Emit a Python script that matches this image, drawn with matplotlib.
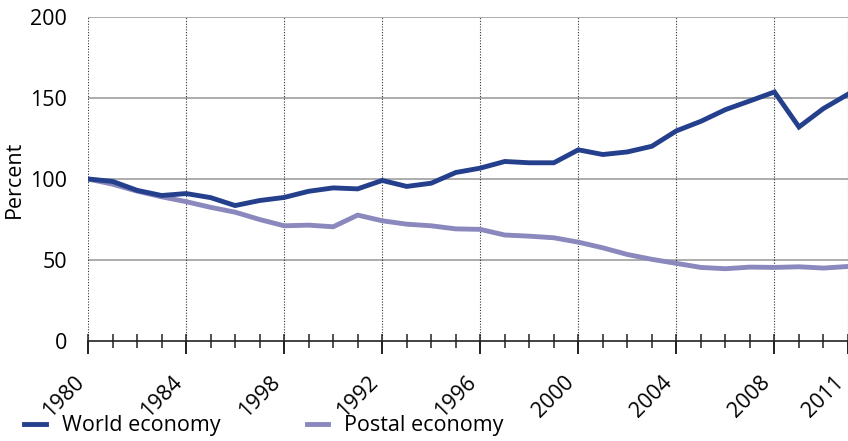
import numpy as np
import matplotlib
matplotlib.use('Agg')
import matplotlib.pyplot as plt
import matplotlib.transforms as mtransforms

# Index 1980 = 100
years = list(range(1980, 2012))

world = [100, 98.5, 93, 89.8, 91, 88.5, 83.6, 86.7, 88.6, 92.4,
         94.5, 93.9, 99.1, 95.4, 97.4, 104, 106.7, 110.8, 110, 110,
         118, 115.1, 116.7, 120.2, 129.7, 135.6, 142.8, 148.2, 153.7, 132.1,
         143.5, 152.3]

postal = [100, 96.8, 92.5, 89, 86, 82.5, 79.5, 75, 71.1, 71.5,
          70.5, 77.7, 74.2, 72.1, 71.1, 69.2, 68.9, 65.4, 64.7, 63.7,
          61, 57.5, 53.4, 50.4, 47.9, 45.4, 44.6, 45.6, 45.4, 45.8,
          45, 46]

major_years = [1980, 1984, 1988, 1992, 1996, 2000, 2004, 2008, 2011]
major_labels = ['1980', '1984', '1998', '1992', '1996', '2000', '2004', '2008', '2011']

plt.rcParams['font.family'] = ['Open Sans', 'DejaVu Sans']
fs = 15.5

fig = plt.figure(figsize=(8.48, 4.41), dpi=100)
ax = fig.add_axes([0.1038, 0.2268, 0.8962, 0.7347])

ax.plot(years, world, color='#243f8c', lw=3.5, label='World economy',
        solid_joinstyle='miter', zorder=3)
ax.plot(years, postal, color='#8a88bd', lw=3.5, label='Postal economy',
        solid_joinstyle='miter', zorder=2)

ax.set_xlim(1980, 2011)
ax.set_ylim(0, 200)

# grid
for v in [50, 100, 150, 200]:
    ax.axhline(v, color='#a6a6a6', lw=1.3, zorder=1)
for yr in major_years:
    ax.axvline(yr, color='#333333', lw=0.8, ls=(0, (1, 1.5)), zorder=1)

ax.set_yticks([0, 50, 100, 150, 200])
ax.tick_params(axis='y', length=0, pad=15, labelsize=fs)

ax.set_xticks(major_years)
ax.set_xticklabels(major_labels, rotation=45, ha='right', va='top',
                   rotation_mode='anchor', fontsize=fs)
ax.set_xticks(years, minor=True)
ax.xaxis.remove_overlapping_locs = False
ax.tick_params(axis='x', which='major', direction='out', length=9.7,
               width=1.4, color='#222222', pad=3)
ax.tick_params(axis='x', which='minor', direction='inout', length=10,
               width=1.1, color='#222222')

# shift labels so their right end sits at the tick (after tick_params)
shift = mtransforms.ScaledTranslation(-10.5 / 72, -9.5 / 72, fig.dpi_scale_trans)
for lab in ax.xaxis.get_majorticklabels():
    lab.set_transform(lab.get_transform() + shift)

for s in ['top', 'right', 'left']:
    ax.spines[s].set_visible(False)
ax.spines['bottom'].set_linewidth(1.2)
ax.spines['bottom'].set_color('#222222')
ax.spines['bottom'].set_zorder(4)

ax.set_ylabel('Percent', fontsize=fs, labelpad=4)

fig.legend(loc='center left', bbox_to_anchor=(0.006, 0.035), ncol=2,
           frameon=False, fontsize=fs, handlelength=1.0,
           handletextpad=0.75, columnspacing=4.0)

fig.savefig('out.png', dpi=100)
